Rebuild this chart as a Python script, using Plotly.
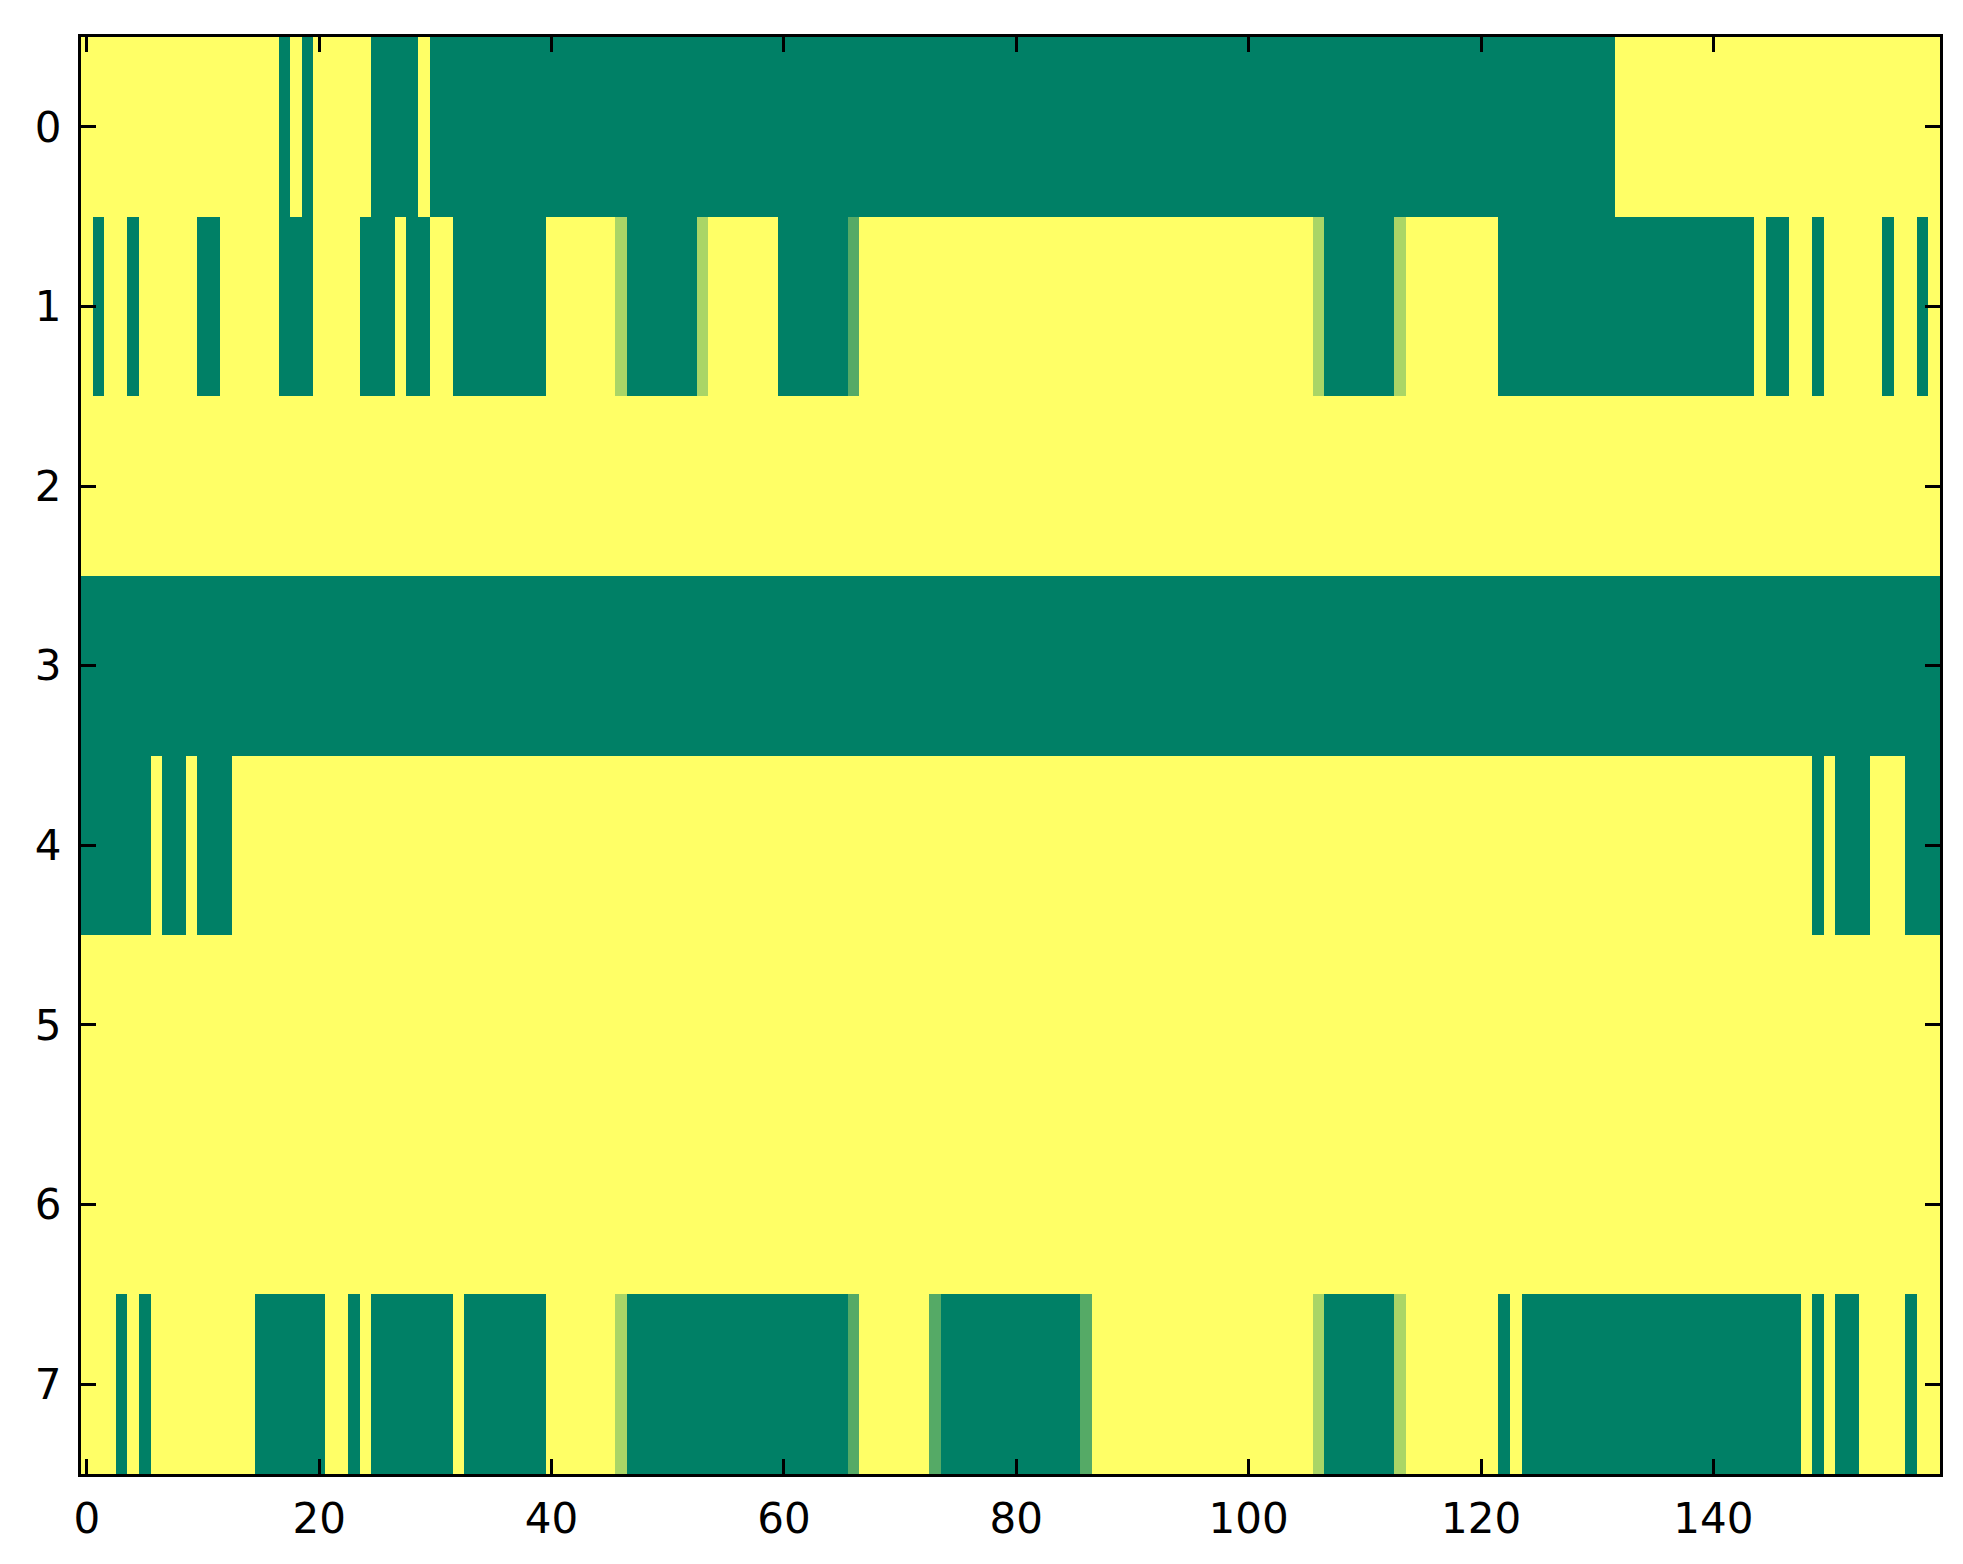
import plotly.graph_objects as go

# Values: 0 = dark green, 1 = yellow, fractional = in-between greens.
# Each row is given as runs of (value, number of columns); 160 columns per row.
G, Y, L, M = 0.0, 1.0, 0.667, 0.333

row0 = [(Y, 17), (G, 1), (Y, 1), (G, 1), (Y, 5), (G, 4), (Y, 1), (G, 102), (Y, 28)]
row1 = [(Y, 1), (G, 1), (Y, 2), (G, 1), (Y, 5), (G, 2), (Y, 5), (G, 3), (Y, 4), (G, 3),
        (Y, 1), (G, 2), (Y, 2), (G, 8), (Y, 6), (L, 1), (G, 6), (L, 1), (Y, 6), (G, 6),
        (M, 1), (Y, 39), (L, 1), (G, 6), (L, 1), (Y, 8), (G, 22), (Y, 1), (G, 2), (Y, 2),
        (G, 1), (Y, 5), (G, 1), (Y, 2), (G, 1), (Y, 1)]
row2 = [(Y, 160)]
row3 = [(G, 160)]
row4 = [(G, 6), (Y, 1), (G, 2), (Y, 1), (G, 3), (Y, 136), (G, 1), (Y, 1), (G, 3), (Y, 3), (G, 3)]
row5 = [(Y, 160)]
row6 = [(Y, 160)]
row7 = [(Y, 3), (G, 1), (Y, 1), (G, 1), (Y, 9), (G, 6), (Y, 2), (G, 1), (Y, 1), (G, 7),
        (Y, 1), (G, 7), (Y, 6), (L, 1), (G, 19), (M, 1), (Y, 6), (M, 1), (G, 12), (M, 1),
        (Y, 19), (L, 1), (G, 6), (L, 1), (Y, 8), (G, 1), (Y, 1), (G, 24), (Y, 1), (G, 1),
        (Y, 1), (G, 2), (Y, 4), (G, 1), (Y, 2)]

rows = [row0, row1, row2, row3, row4, row5, row6, row7]
x_ticks = [0, 20, 40, 60, 80, 100, 120, 140]
y_ticks = [0, 1, 2, 3, 4, 5, 6, 7]


def expand(runs):
    out = []
    for v, n in runs:
        out.extend([v] * n)
    return out


z = [expand(r) for r in rows]
ncols = len(z[0])

fig = go.Figure(
    go.Heatmap(
        z=z,
        x=list(range(ncols)),
        y=list(range(len(z))),
        colorscale=[[0, "#008066"], [1, "#FFFF66"]],
        zmin=0,
        zmax=1,
        showscale=False,
        hoverinfo="skip",
    )
)

axis_common = dict(
    showline=True,
    linecolor="black",
    linewidth=3,
    mirror="ticks",
    ticks="inside",
    ticklen=15,
    tickwidth=3,
    tickcolor="black",
    showgrid=False,
    zeroline=False,
    tickfont=dict(family="DejaVu Sans", size=42, color="black"),
)

fig.update_xaxes(range=[-0.5, ncols - 0.5], tickmode="array", tickvals=x_ticks,
                 ticktext=[str(t) for t in x_ticks], ticklabelstandoff=6, **axis_common)
fig.update_yaxes(range=[len(z) - 0.5, -0.5], tickmode="array", tickvals=y_ticks,
                 ticktext=[str(t) for t in y_ticks], ticklabelstandoff=8, **axis_common)

fig.update_layout(
    width=1963,
    height=1564,
    margin=dict(l=73, r=31, t=29, b=98),
    paper_bgcolor="white",
    plot_bgcolor="white",
)

fig.write_html("out.html")
